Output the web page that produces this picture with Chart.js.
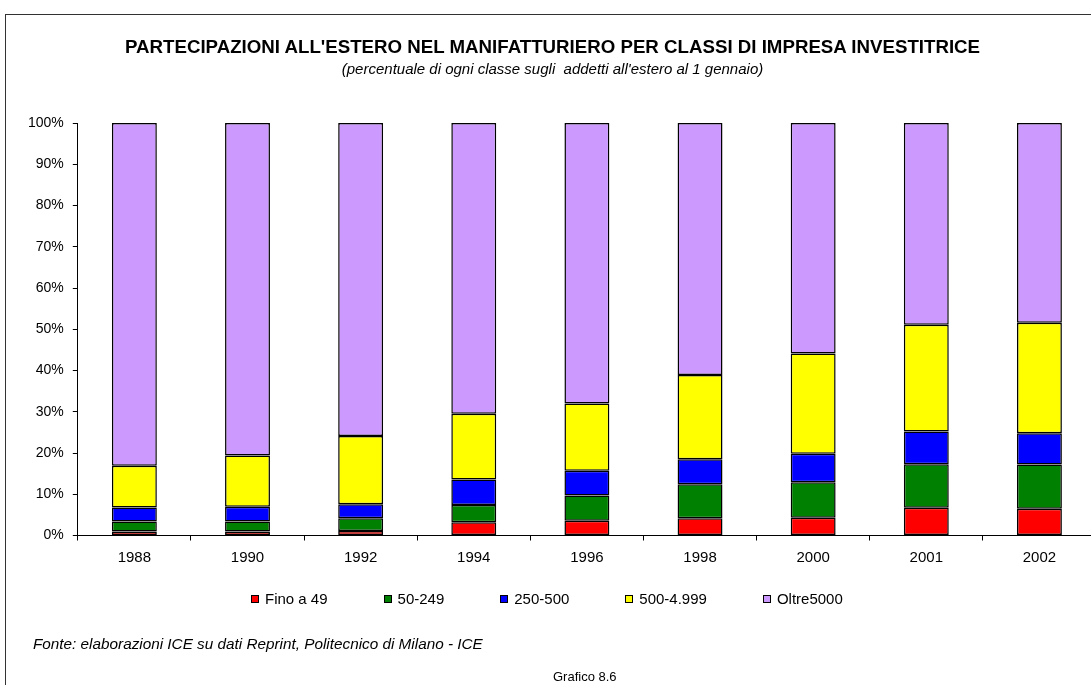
<!DOCTYPE html>
<html>
<head>
<meta charset="utf-8">
<script src="https://cdn.jsdelivr.net/npm/chart.js@4"></script>
<style>
  html, body { margin: 0; padding: 0; background: #fff; }
  body { width: 1091px; height: 685px; position: relative; overflow: hidden; font-family: "Liberation Sans", Arial, sans-serif; }
  #frame { position: absolute; left: 5px; top: 14px; width: 1200px; height: 800px; border: 1px solid #333; box-sizing: border-box; }
  #wrap { position: absolute; left: 0; top: 0; width: 1100px; height: 685px; }
  .head { position: absolute; left: 0; width: 1105px; text-align: center; white-space: nowrap; line-height: 1; color: #000; }
  .note { position: absolute; color: #000; white-space: nowrap; line-height: 1; }
  #legend { position: absolute; left: 251px; top: 591px; display: flex; gap: 56px; font-size: 15px; line-height: 16px; color: #000; }
  #legend .item { display: flex; align-items: center; white-space: nowrap; }
  #legend .sw { width: 8px; height: 8px; border: 1px solid #000; box-sizing: border-box; margin-right: 6px; }
</style>
</head>
<body>
<div id="frame"></div>
<div id="wrap"><canvas id="c" width="1100" height="685"></canvas></div>
<div class="head" style="top:38px; font-size:18.7px; font-weight:bold;">PARTECIPAZIONI ALL'ESTERO NEL MANIFATTURIERO PER CLASSI DI IMPRESA INVESTITRICE</div>
<div class="head" style="top:61px; font-size:15px; font-style:italic;">(percentuale di ogni classe sugli&nbsp; addetti all'estero al 1 gennaio)</div>
<div id="legend"></div>
<div class="note" style="left:33px; top:636px; font-size:15.3px; font-style:italic;">Fonte: elaborazioni ICE su dati Reprint, Politecnico di Milano - ICE</div>
<div class="note" style="left:553px; top:670px; font-size:13px;">Grafico 8.6</div>
<script>
// Years of observation (1 January)
const years = ['1988', '1990', '1992', '1994', '1996', '1998', '2000', '2001', '2002'];

// Share of foreign employees by size class of the investing firm (%)
const fino49    = [1.0, 1.0, 1.1, 3.2, 3.6, 4.2, 4.3, 6.7, 6.5];
const da50      = [2.4, 2.4, 3.1, 4.2, 6.1, 8.2, 8.6, 10.6, 10.7];
const da250     = [3.4, 3.6, 3.4, 6.2, 6.0, 6.1, 6.9, 7.9, 7.6];
const da500     = [10.1, 12.4, 16.5, 15.9, 16.3, 20.4, 24.3, 25.9, 26.8];
const oltre5000 = [83.1, 80.6, 75.9, 70.5, 68.0, 61.1, 55.9, 48.9, 48.4];

const seriesNames = ['Fino a 49', '50-249', '250-500', '500-4.999', 'Oltre5000'];
const seriesData = [fino49, da50, da250, da500, oltre5000];
const seriesColors = ['#FF0000', '#008000', '#0000FF', '#FFFF00', '#CC99FF'];

const FONT = '"Liberation Sans", Arial, sans-serif';
Chart.defaults.font.family = FONT;
Chart.defaults.color = '#000';

// Legend row under the chart
const legendEl = document.getElementById('legend');
seriesNames.forEach((name, i) => {
  const item = document.createElement('div');
  item.className = 'item';
  const sw = document.createElement('span');
  sw.className = 'sw';
  sw.style.background = seriesColors[i];
  const tx = document.createElement('span');
  tx.textContent = name;
  item.appendChild(sw);
  item.appendChild(tx);
  legendEl.appendChild(item);
});

new Chart(document.getElementById('c'), {
  type: 'bar',
  data: {
    labels: years,
    datasets: seriesNames.map((name, i) => ({
      label: name,
      data: seriesData[i],
      backgroundColor: seriesColors[i],
      borderColor: '#000',
      borderWidth: 1.5,
      borderSkipped: false,
      barPercentage: 0.397,
      categoryPercentage: 1.0
    }))
  },
  options: {
    responsive: false,
    animation: false,
    layout: { padding: { left: 19, right: 4, top: 123, bottom: 110.5 } },
    plugins: {
      legend: { display: false },
      tooltip: { enabled: false }
    },
    scales: {
      x: {
        stacked: true,
        border: { color: '#000', width: 1 },
        grid: { display: true, drawOnChartArea: false, drawTicks: true, tickLength: 5, color: '#000', offset: true },
        ticks: { font: { size: 15, family: FONT }, color: '#000', padding: 8 }
      },
      y: {
        stacked: true,
        min: 0,
        max: 100,
        border: { color: '#000', width: 1 },
        grid: { display: true, drawOnChartArea: false, drawTicks: true, tickLength: 5, color: '#000' },
        ticks: { stepSize: 10, font: { size: 14, family: FONT }, color: '#000', padding: 9,
                 callback: v => v + '%' }
      }
    }
  }
});
</script>
</body>
</html>
